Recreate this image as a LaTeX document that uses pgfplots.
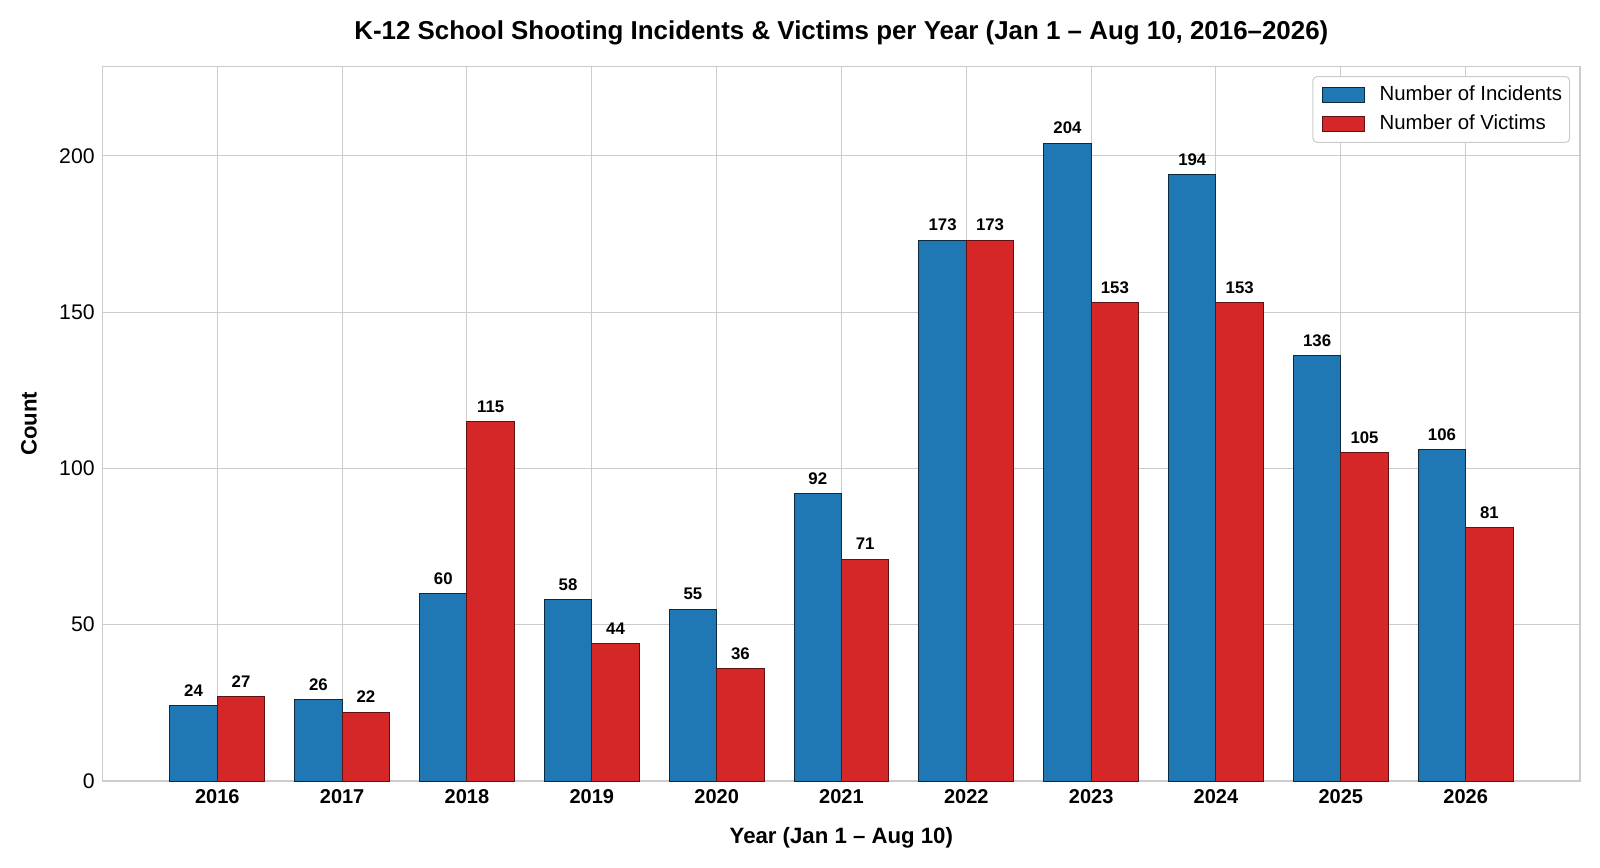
\documentclass[border=0pt]{standalone}
\usepackage{fontspec}
\setmainfont{Liberation Sans}
\usepackage{pgfplots}
\pgfplotsset{compat=1.18}
\definecolor{cblue}{HTML}{1F77B4}
\definecolor{cred}{HTML}{D62728}
\definecolor{gridc}{HTML}{CCCCCC}
\begin{document}
\begin{tikzpicture}
\begin{axis}[
  anchor=south west, at={(0,0)},
  scale only axis, width=738.65pt, height=357.15pt,
  xmin=-0.918, xmax=10.916, ymin=0, ymax=228.5,
  xtick={0,1,2,3,4,5,6,7,8,9,10},
  xticklabels={2016,2017,2018,2019,2020,2021,2022,2023,2024,2025,2026},
  ytick={0,50,100,150,200},
  grid=major,
  major grid style={draw=gridc, line width=0.5pt},
  axis line style={draw=gridc, line width=0.65pt},
  tick style={draw=none},
  /pgf/number format/assume math mode=true,
  xticklabel style={font=\bfseries\fontsize{10}{12}\selectfont, inner sep=0pt, anchor=north, yshift=-4pt},
  yticklabel style={font=\fontsize{10.6}{12}\selectfont, inner sep=0pt, anchor=east, xshift=-3.85pt},
  xlabel={Year (Jan 1 – Aug 10)},
  ylabel={Count},
  xlabel style={font=\bfseries\fontsize{11.1}{13}\selectfont, at={(axis description cs:0.5,-0.08722)}, anchor=base, inner sep=0pt},
  ylabel style={font=\bfseries\fontsize{11.1}{13}\selectfont, at={(axis description cs:-0.04468,0.5)}, anchor=base, rotate=0, inner sep=0pt},
  title={K-12 School Shooting Incidents \& Victims per Year (Jan 1 – Aug 10, 2016–2026)},
  every axis title shift=0pt,
  title style={font=\bfseries\fontsize{12.95}{14}\selectfont, at={(axis description cs:0.5,1.03836)}, anchor=base, yshift=0pt, inner sep=0pt},
  clip=false,
  nodes near coords,
  every node near coord/.append style={font=\bfseries\fontsize{8.4}{9}\selectfont, text=black, anchor=base, inner sep=0pt, yshift=4.7pt},
  legend cell align=left,
  legend style={at={(axis description cs:1,1)}, anchor=north east, xshift=-5pt, yshift=-4.7pt,
    draw=gridc, line width=0.5pt, rounded corners=2pt, fill=white,
    font=\fontsize{10.2}{11}\selectfont, inner xsep=1.7pt, inner ysep=2.7pt, row sep=1.5pt,
    nodes={inner sep=2pt, text height=7.5pt, text depth=1.5pt}},
  legend image code/.code={\path (0pt,0pt); \draw[#1, line width=0.5pt, sharp corners] (3pt,-3.6pt) rectangle (23.8pt,3.6pt);},
]
\addplot[ybar, bar width=0.38, bar shift=0pt, fill=cblue, draw=cblue!35!black, line width=0.5pt]
  coordinates {(-0.19,24) (0.81,26) (1.81,60) (2.81,58) (3.81,55) (4.81,92) (5.81,173) (6.81,204) (7.81,194) (8.81,136) (9.81,106)};
\addlegendentry{\hspace{5.3pt}Number of Incidents}
\addplot[ybar, bar width=0.38, bar shift=0pt, fill=cred, draw=cred!45!black, line width=0.5pt]
  coordinates {(0.19,27) (1.19,22) (2.19,115) (3.19,44) (4.19,36) (5.19,71) (6.19,173) (7.19,153) (8.19,153) (9.19,105) (10.19,81)};
\addlegendentry{\hspace{5.3pt}Number of Victims}
\end{axis}
\pgfresetboundingbox
\path[use as bounding box] (-51.35pt,-43pt) rectangle (748.65pt,390.5pt);
\end{tikzpicture}
\end{document}
